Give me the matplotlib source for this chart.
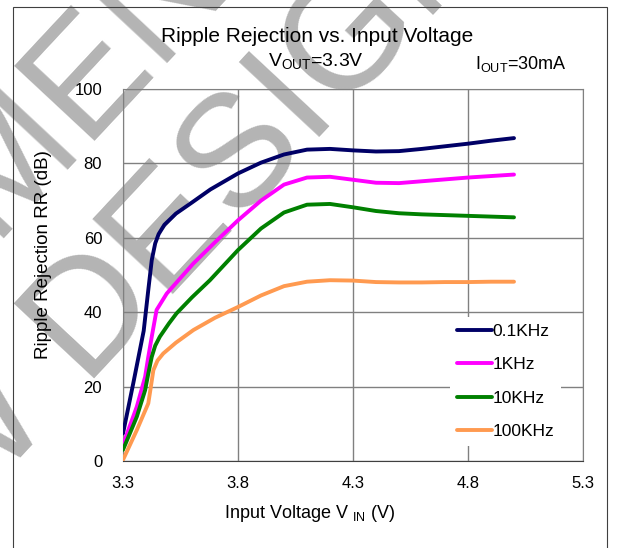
import matplotlib
matplotlib.use("Agg")
import matplotlib.pyplot as plt
from matplotlib.patches import Rectangle

plt.rcParams["font.family"] = ["Liberation Sans", "DejaVu Sans"]
plt.rcParams["mathtext.fontset"] = "custom"
plt.rcParams["mathtext.rm"] = "Liberation Sans"
plt.rcParams["mathtext.it"] = "Liberation Sans:italic"
plt.rcParams["mathtext.bf"] = "Liberation Sans:bold"

# values
vin_01k = [3.30, 3.345, 3.39, 3.41, 3.425, 3.44, 3.455, 3.48, 3.53, 3.60, 3.68, 3.80,
           3.90, 4.00, 4.10, 4.20, 4.30, 4.40, 4.50, 4.60, 4.70, 4.80, 4.90, 5.00]
rr_01k = [7.4, 21.0, 35.0, 46.0, 54.0, 58.5, 61.0, 63.5, 66.5, 69.5, 73.0, 77.3,
          80.2, 82.4, 83.7, 83.9, 83.5, 83.2, 83.3, 83.9, 84.6, 85.3, 86.1, 86.8]

vin_1k = [3.30, 3.33, 3.36, 3.396, 3.41, 3.425, 3.446, 3.49, 3.55, 3.606, 3.70, 3.80,
          3.90, 4.00, 4.10, 4.20, 4.30, 4.40, 4.50, 4.60, 4.70, 4.80, 4.90, 5.00]
rr_1k = [4.3, 9.5, 14.6, 22.6, 28.0, 33.4, 40.6, 45.0, 49.2, 53.1, 58.8, 64.7,
         70.0, 74.3, 76.2, 76.4, 75.6, 74.8, 74.7, 75.2, 75.7, 76.2, 76.6, 77.0]

vin_10k = [3.30, 3.36, 3.396, 3.41, 3.425, 3.44, 3.46, 3.50, 3.533, 3.60, 3.678, 3.80,
           3.90, 4.00, 4.10, 4.20, 4.30, 4.40, 4.50, 4.60, 4.70, 4.80, 4.90, 5.00]
rr_10k = [3.0, 11.9, 19.0, 23.5, 28.0, 31.0, 33.4, 37.0, 39.7, 44.0, 48.6, 56.7,
          62.5, 66.8, 68.9, 69.1, 68.2, 67.2, 66.6, 66.3, 66.1, 65.9, 65.7, 65.5]

vin_100k = [3.30, 3.36, 3.41, 3.42, 3.432, 3.45, 3.475, 3.53, 3.606, 3.70, 3.80,
            3.90, 4.00, 4.10, 4.20, 4.30, 4.40, 4.50, 4.60, 4.70, 4.80, 4.90, 5.00]
rr_100k = [0.3, 8.3, 15.5, 19.5, 24.4, 27.0, 28.9, 31.8, 35.2, 38.5, 41.4,
           44.5, 47.0, 48.2, 48.6, 48.5, 48.1, 48.0, 48.0, 48.1, 48.1, 48.2, 48.2]

series = [
    ("0.1KHz", vin_01k, rr_01k, "#000066"),
    ("1KHz", vin_1k, rr_1k, "#ff00ff"),
    ("10KHz", vin_10k, rr_10k, "#008000"),
    ("100KHz", vin_100k, rr_100k, "#ff9a50"),
]

x_ticks = [3.3, 3.8, 4.3, 4.8, 5.3]
y_ticks = [0, 20, 40, 60, 80, 100]

W, H = 620, 548


def fx(px):
    return px / W


def fy(py):
    return 1 - py / H


fig = plt.figure(figsize=(W / 100, H / 100), dpi=100)
fig.patch.set_facecolor("white")

# watermark, behind everything (anchored at the middle of each baseline)
wm_color = "#b4b4b4"
fig.text(fx(30), fy(211), "NOT RECOMMENDED FOR", rotation=47, rotation_mode="anchor",
         ha="center", va="baseline", fontsize=115, color=wm_color, zorder=-2)
fig.text(fx(153), fy(316), "NEW DESIGN", rotation=47, rotation_mode="anchor",
         ha="center", va="baseline", fontsize=115, color=wm_color, zorder=-2)

# outer frame of the chart area
fig.add_artist(Rectangle((fx(13), fy(560)), fx(607) - fx(13), fy(7) - fy(560),
                         transform=fig.transFigure, fill=False, edgecolor="#404040",
                         linewidth=0.8, zorder=-1))

ax = fig.add_axes([fx(123), fy(461), fx(583) - fx(123), fy(89) - fy(461)])
ax.set_facecolor("none")

for label, xs, ys, color in series:
    ax.plot(xs, ys, color=color, linewidth=2.8, label=label,
            solid_capstyle="round", solid_joinstyle="round", zorder=3)

ax.set_xlim(3.3, 5.3)
ax.set_ylim(0, 100)
ax.set_xticks(x_ticks)
ax.set_xticklabels([f"{v:.1f}" for v in x_ticks])
ax.set_yticks(y_ticks)
ax.tick_params(length=0, labelsize=12, colors="black")
ax.tick_params(axis="y", pad=15)
ax.tick_params(axis="x", pad=11)
ax.grid(True, color="#808080", linewidth=1.0)
ax.set_axisbelow(True)
for side in ["top", "right", "left"]:
    ax.spines[side].set_color("#808080")
ax.spines["bottom"].set_color("#404040")

leg = ax.legend(loc="upper left", bbox_to_anchor=(fx(450), fy(317)),
                bbox_transform=fig.transFigure, fontsize=12.5, frameon=True,
                fancybox=False, framealpha=1, handlelength=2.0, handletextpad=0.05,
                labelspacing=1.05, borderaxespad=0)
leg.get_frame().set_facecolor("white")
leg.get_frame().set_edgecolor("none")

fig.text(fx(317), fy(37), "Ripple Rejection vs. Input Voltage", ha="center", va="center",
         fontsize=15)
fig.text(fx(316), fy(66), r"V$_{\mathrm{OUT}}$=3.3V", ha="center", va="baseline", fontsize=14)
fig.text(fx(475), fy(69), r"I$_{\mathrm{OUT}}$=30mA", ha="left", va="baseline", fontsize=13)
fig.text(fx(44), fy(255), "Ripple Rejection RR (dB)", rotation=90, ha="center", va="center",
         fontsize=13.5)
fig.text(fx(310), fy(514), r"Input Voltage V $_{\mathrm{IN}}$ (V)", ha="center", va="center",
         fontsize=13)

fig.savefig("out.png", dpi=100)
